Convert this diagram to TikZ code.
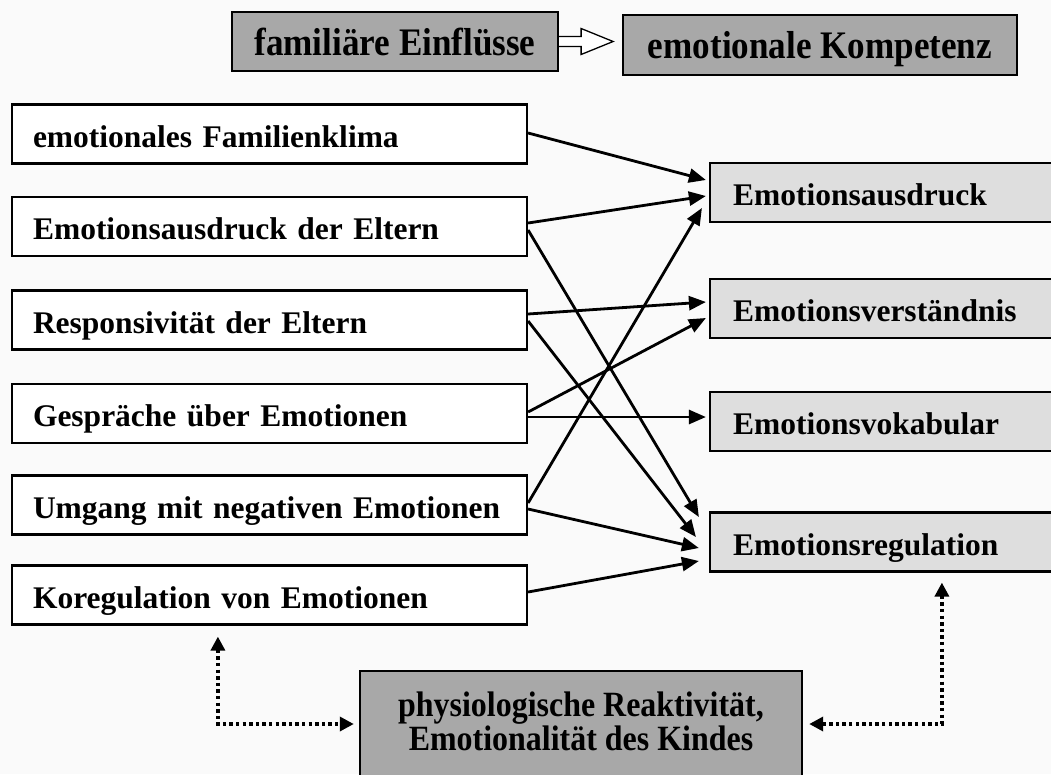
\documentclass[tikz,border=0pt]{standalone}
\usepackage{fontspec}
\setmainfont{Liberation Serif}
\newfontfamily\condfont[FakeStretch=0.9]{Liberation Serif}
\usetikzlibrary{arrows.meta,calc,backgrounds}
\begin{document}
\begin{tikzpicture}[x=1pt,y=-1pt,
  lbox/.style={draw, line width=2.2pt, fill=white, text width=473pt, inner xsep=21pt, inner ysep=0pt,
    minimum height=59pt, align=left, font=\fontsize{31.5}{36}\selectfont\bfseries,
    text height=38pt, text depth=12pt},
  rbox/.style={draw, line width=2.2pt, fill=black!13, text width=304pt, inner xsep=23pt, inner ysep=0pt,
    minimum height=59pt, align=left, font=\fontsize{31.5}{36}\selectfont\bfseries,
    text height=38pt, text depth=12pt},
  tbox/.style={draw, line width=2.2pt, fill=black!34, inner sep=0pt, minimum height=59pt,
    font=\condfont\bfseries\fontsize{39}{40}\selectfont, text height=37pt, text depth=10pt},
  conn/.style={line width=2.8pt, -{Triangle[length=17pt,width=14pt]}},
  dotarrow/.style={line width=3.4pt, dash pattern=on 3.4pt off 3.2pt,
    {Triangle[length=14pt,width=14pt]}-{Triangle[length=14pt,width=14pt]}}
]
\useasboundingbox (0,0) rectangle (1051,774);
\begin{scope}[on background layer]
  \fill[black!2] (0,0) rectangle (1051,774);
\end{scope}

% top row
\node[tbox, minimum width=326pt] (fam) at (395,41.5) {familiäre Einflüsse};
\node[tbox, minimum width=394pt, minimum height=60pt] (emo) at (820,45) {emotionale Kompetenz};
\draw[line width=1.3pt, fill=white, line join=miter]
  ($(fam.east)+(0,-5)$) -- ++(22,0) -- ++(0,-8) -- ($(fam.east)+(54,0)$)
  -- ($(fam.east)+(22,13)$) -- ++(0,-8) -- ($(fam.east)+(0,5)$);

% left column
\node[lbox] (B1) at (269.5,134)   {emotionales Familienklima};
\node[lbox] (B2) at (269.5,226.5) {Emotionsausdruck der Eltern};
\node[lbox] (B3) at (269.5,320)   {Responsivität der Eltern};
\node[lbox] (B4) at (269.5,413.5) {Gespräche über Emotionen};
\node[lbox] (B5) at (269.5,505)   {Umgang mit negativen Emotionen};
\node[lbox] (B6) at (269.5,595)   {Koregulation von Emotionen};

% right column
\node[rbox] (E1) at (885,192.5) {Emotionsausdruck};
\node[rbox] (E2) at (885,308.5) {Emotionsverständnis};
\node[rbox] (E3) at (885,421.5) {Emotionsvokabular};
\node[rbox] (E4) at (885,542)   {Emotionsregulation};

% bottom box
\coordinate (bottop) at (581,671);
\node[font=\condfont\bfseries\fontsize{35.5}{34}\selectfont, align=center, minimum width=442pt, inner sep=0pt]
  (bot) at (581,721) {physiologische Reaktivität,\\Emotionalität des Kindes};
\begin{scope}[on background layer]
  \draw[line width=2.2pt, fill=black!34] (bot.west |- bottop) rectangle ($(bot.east)+(0,80)$);
\end{scope}

% connectors
\draw[conn] ($(B1.east)+(0,-1)$)   -- ($(E1.west)+(-3,-12.5)$);
\draw[conn] ($(B2.east)+(0,-3.5)$) -- ($(E1.west)+(-3,3.5)$);
\draw[conn] ($(B5.east)+(0,-2)$)   -- ($(E1.west)+(-7,15.5)$);
\draw[conn] ($(B3.east)+(0,-6)$)   -- ($(E2.west)+(-3,-6.5)$);
\draw[conn] ($(B4.east)+(0,-1.5)$) -- ($(E2.west)+(-3,9.5)$);
\draw[conn] ($(B4.east)+(0,3.5)$)  -- ($(E3.west)+(-3,-4.5)$);
\draw[conn] ($(B2.east)+(0,3.5)$)  -- ($(E4.west)+(-10,-25)$);
\draw[conn] ($(B3.east)+(0,1)$)    -- ($(E4.west)+(-13,-5)$);
\draw[conn] ($(B5.east)+(0,4)$)    -- ($(E4.west)+(-10,6)$);
\draw[conn] ($(B6.east)+(0,-3)$)   -- ($(E4.west)+(-10,19)$);

% dotted feedback arrows
\draw[dotarrow] ($(B6.south west)+(207,11)$) |- ($(bot.west |- 0,724)+(-6,0)$);
\draw[dotarrow] ($(E4.south west)+(233,10)$) |- ($(bot.east |- 0,724)+(7,0)$);
\end{tikzpicture}
\end{document}
